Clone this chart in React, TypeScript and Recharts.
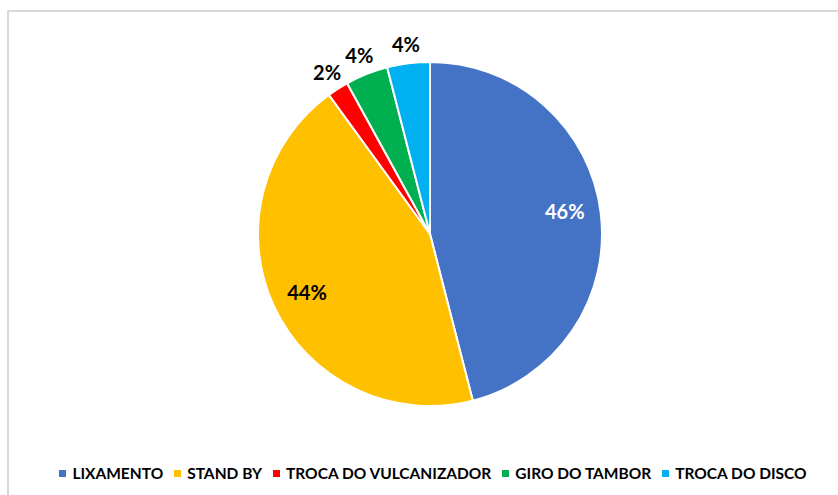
import React from "react";
import { PieChart, Pie, Cell, Legend } from "recharts";

const categories = ["LIXAMENTO", "STAND BY", "TROCA DO VULCANIZADOR", "GIRO DO TAMBOR", "TROCA DO DISCO"];
const values = [46, 44, 2, 4, 4];
const colors = ["#4472C4", "#FFC000", "#FF0000", "#00B050", "#00B0F0"];
const labelColors = ["#FFFFFF", "#000000", "#000000", "#000000", "#000000"];

const data = categories.map((name, i) => ({ name, value: values[i] }));

const RADIAN = Math.PI / 180;
const FONT = "Lato, 'Open Sans', sans-serif";

const renderLabel = (props: any) => {
  const { cx, cy, midAngle, outerRadius, percent, index } = props;
  const inside = percent >= 0.1;
  const r = inside ? outerRadius * 0.79 : outerRadius + 20;
  const x = cx + r * Math.cos(-midAngle * RADIAN);
  const y = cy + r * Math.sin(-midAngle * RADIAN) - (inside && index === 0 ? 6 : 0);
  return (
    <text
      x={x}
      y={y}
      fill={inside ? labelColors[index] : "#000000"}
      textAnchor="middle"
      dominantBaseline="central"
      fontFamily={FONT}
      fontWeight={700}
      fontSize={20}
    >
      {`${Math.round(percent * 100)}%`}
    </text>
  );
};

const renderLegend = () => (
  <div
    style={{
      display: "flex",
      justifyContent: "center",
      alignItems: "center",
      gap: 11,
      fontFamily: FONT,
      fontWeight: 700,
      fontSize: 15.5,
      color: "#000000",
      whiteSpace: "nowrap",
    }}
  >
    {categories.map((c, i) => (
      <div key={c} style={{ display: "flex", alignItems: "center" }}>
        <span
          style={{
            display: "inline-block",
            width: 7,
            height: 7,
            background: colors[i],
            marginRight: 6,
          }}
        />
        <span>{c}</span>
      </div>
    ))}
  </div>
);

export default function App() {
  return (
    <div
      style={{
        position: "absolute",
        left: 0,
        top: 0,
        width: 838,
        height: 495,
        overflow: "hidden",
        background: "#ffffff",
      }}
    >
      <div
        style={{
          position: "absolute",
          left: 7,
          top: 10,
          width: 900,
          height: 600,
          border: "2px solid #d9d9d9",
          boxSizing: "border-box",
        }}
      />
      <div style={{ position: "absolute", left: 0, top: 0 }}>
        <PieChart width={838} height={495} margin={{ top: 0, right: 0, bottom: 0, left: 0 }}>
          <Pie
            data={data}
            dataKey="value"
            nameKey="name"
            cx={430}
            cy={234}
            outerRadius={172}
            startAngle={90}
            endAngle={-270}
            stroke="#ffffff"
            strokeWidth={2}
            label={renderLabel}
            labelLine={false}
            isAnimationActive={false}
          >
            {data.map((d, i) => (
              <Cell key={d.name} fill={colors[i]} />
            ))}
          </Pie>
          <Legend
            verticalAlign="bottom"
            align="center"
            content={renderLegend}
            wrapperStyle={{ top: 464, left: 0, width: 866 }}
          />
        </PieChart>
      </div>
    </div>
  );
}
